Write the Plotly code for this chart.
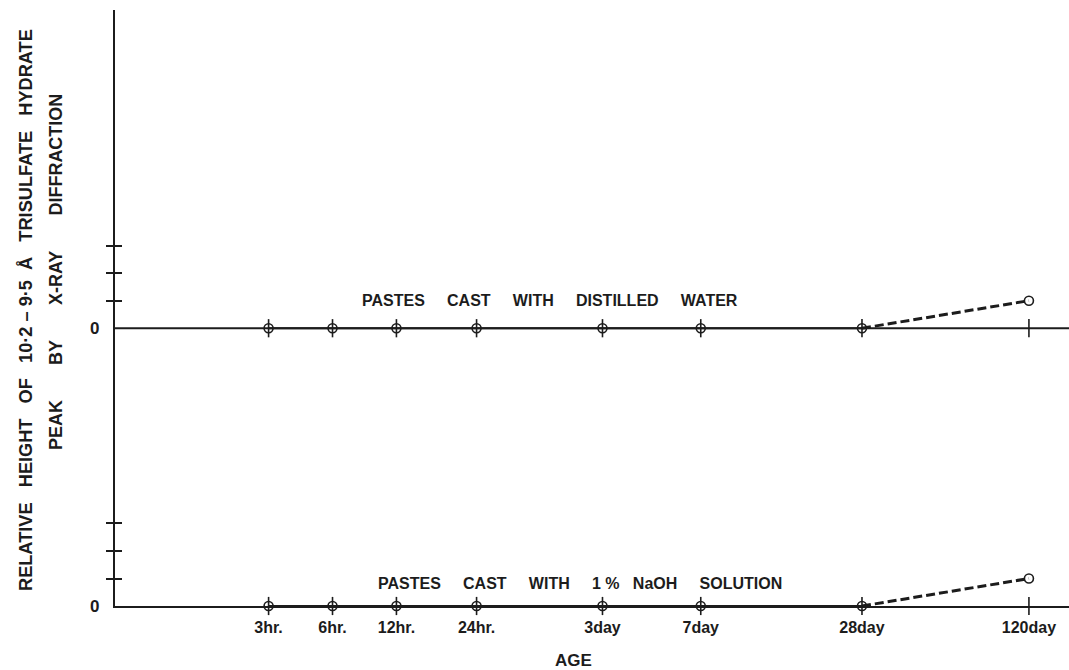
import plotly.graph_objects as go

# ---- data ----
age_labels = ["3hr.", "6hr.", "12hr.", "24hr.", "3day", "7day", "28day", "120day"]
# position of each age on the chart's hand-drawn (non-uniform) age scale, 0-100
age_scale = [16.1, 22.8, 29.5, 37.9, 51.1, 61.4, 78.3, 95.8]
distilled_water = [0, 0, 0, 0, 0, 0, 0, 1]
naoh_solution = [0, 0, 0, 0, 0, 0, 0, 1]
y_tick_units = [1, 2, 3]

# ---- layout parameters ----
PANEL_OFFSET = 10.1      # vertical offset of the upper (distilled water) panel
Y_MAX = 21.67
INK = "#1c1c1c"
FONT = "Liberation Sans, Arial, sans-serif"
SP = "\u00a0"

fig = go.Figure()

def add_panel(values, off, label, label_x, label_dy):
    fig.add_trace(go.Scatter(
        x=age_scale[:7], y=[v + off for v in values[:7]], mode="lines",
        line=dict(color=INK, width=2), showlegend=False, hoverinfo="skip", cliponaxis=False))
    fig.add_trace(go.Scatter(
        x=age_scale[6:], y=[v + off for v in values[6:]], mode="lines",
        line=dict(color=INK, width=3, dash="9px,4px"), showlegend=False, hoverinfo="skip",
        cliponaxis=False))
    fig.add_trace(go.Scatter(
        x=age_scale, y=[off] * len(age_scale), mode="markers",
        marker=dict(symbol="line-ns", size=13, line=dict(color=INK, width=1.6)),
        showlegend=False, hoverinfo="skip", cliponaxis=False))
    fig.add_trace(go.Scatter(
        x=age_scale, y=[v + off for v in values], mode="markers",
        marker=dict(symbol="circle", size=9, color="rgba(0,0,0,0)", line=dict(color=INK, width=1.6)),
        showlegend=False, hoverinfo="skip", cliponaxis=False))
    fig.add_annotation(x=label_x, y=off, yshift=label_dy, xref="x", yref="y",
                       text=label, showarrow=False,
                       font=dict(family=FONT, size=16, color=INK), xanchor="center", yanchor="middle")
    fig.add_annotation(x=0, y=off, xref="paper", yref="y", text="<b>0</b>", showarrow=False,
                       xanchor="right", yanchor="middle", xshift=-14,
                       font=dict(family=FONT, size=17, color=INK))

g = SP * 5
add_panel(distilled_water, PANEL_OFFSET,
          "<b>PASTES" + g + "CAST" + g + "WITH" + g + "DISTILLED" + g + "WATER</b>", 45.6, 28)
add_panel(naoh_solution, 0,
          "<b>PASTES" + g + "CAST" + g + "WITH" + g + "1" + SP + "%" + SP * 3 + "NaOH" + g + "SOLUTION</b>", 48.7, 23)

fig.add_shape(type="line", xref="paper", yref="y", x0=0, x1=1, y0=PANEL_OFFSET, y1=PANEL_OFFSET,
              line=dict(color=INK, width=2), layer="below")

yticks = y_tick_units + [PANEL_OFFSET + t for t in y_tick_units]

fig.update_layout(
    width=1069, height=670,
    margin=dict(l=115, r=0, t=10, b=64),
    paper_bgcolor="white", plot_bgcolor="white",
    xaxis=dict(range=[0, 100], showgrid=False, zeroline=False,
               showline=True, linecolor=INK, linewidth=2, layer="below traces",
               tickmode="array", tickvals=age_scale, ticktext=["<b>%s</b>" % a for a in age_labels],
               ticks="", ticklabelstandoff=6,
               tickfont=dict(family=FONT, size=16, color=INK)),
    yaxis=dict(range=[0, Y_MAX], showgrid=False, zeroline=False,
               showline=True, linecolor=INK, linewidth=2,
               tickmode="array", tickvals=yticks, ticktext=[""] * len(yticks),
               ticks="outside", ticklen=7, tickwidth=1.6, tickcolor=INK),
    yaxis2=dict(range=[0, Y_MAX], overlaying="y", side="left", showgrid=False, zeroline=False,
                showline=False, tickmode="array", tickvals=yticks, ticktext=[""] * len(yticks),
                ticks="inside", ticklen=7, tickwidth=1.6, tickcolor=INK),
    showlegend=False,
)
fig.add_trace(go.Scatter(x=[None], y=[None], yaxis="y2", showlegend=False, hoverinfo="skip"))

fig.add_annotation(xref="paper", yref="paper", x=(573 - 115) / 954, y=-(660 - 606) / 596,
                   text="<b>AGE</b>", showarrow=False, xanchor="center", yanchor="middle",
                   font=dict(family=FONT, size=17, color=INK))

fig.add_annotation(xref="paper", yref="paper", x=(26 - 115) / 954, y=(606 - 310) / 596,
                   text="<b>RELATIVE" + SP * 3 + "HEIGHT" + SP * 3 + "OF" + SP * 3 + "10·2" + SP + "–" + SP +
                        "9·5" + SP * 2 + "Å" + SP * 3 + "TRISULFATE" + SP * 3 + "HYDRATE</b>",
                   textangle=-90, showarrow=False, xanchor="center", yanchor="middle",
                   font=dict(family=FONT, size=18.2, color=INK))
fig.add_annotation(xref="paper", yref="paper", x=(56 - 115) / 954, y=(606 - 272) / 596,
                   text="<b>PEAK" + SP * 7 + "BY" + SP * 7 + "X-RAY" + SP * 7 + "DIFFRACTION</b>",
                   textangle=-90, showarrow=False, xanchor="center", yanchor="middle",
                   font=dict(family=FONT, size=18, color=INK))

fig.write_html("out.html", config={"displayModeBar": False},
               post_script="document.body.style.margin='0';document.body.style.padding='0';")
